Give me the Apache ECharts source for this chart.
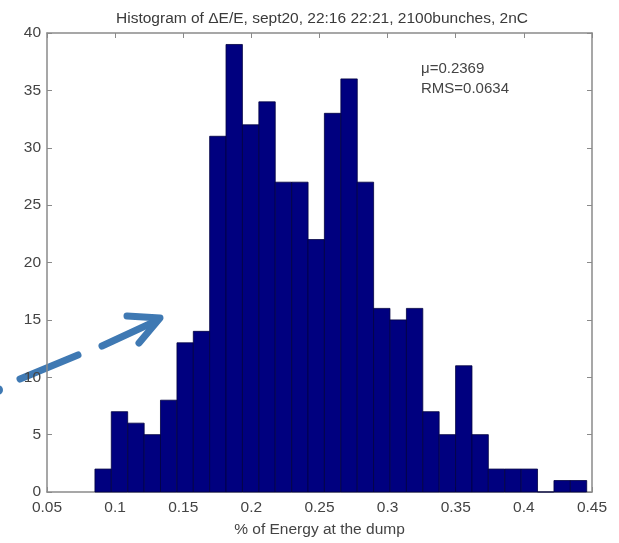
<!DOCTYPE html>
<html>
<head>
<meta charset="utf-8">
<script src="https://cdn.jsdelivr.net/npm/echarts@6/dist/echarts.min.js"></script>
<style>
html,body{margin:0;padding:0;background:#fff;}
#chart{width:619px;height:543px;}
</style>
</head>
<body>
<div id="chart"></div>
<script>
// ---- data ----
const binCenters = [0.0912, 0.1032, 0.1153, 0.1273, 0.1393, 0.1514, 0.1634, 0.1754, 0.1874, 0.1995,
                    0.2115, 0.2235, 0.2356, 0.2476, 0.2596, 0.2717, 0.2837, 0.2957, 0.3078, 0.3198,
                    0.3318, 0.3439, 0.3559, 0.3679, 0.3799, 0.3920, 0.4040, 0.4160, 0.4281, 0.4401];
const counts = [2, 7, 6, 5, 8, 13, 14, 31, 39, 32,
                34, 27, 27, 22, 33, 36, 27, 16, 15, 16,
                7, 5, 11, 5, 2, 2, 2, 0, 1, 1];
const binWidth = 0.01203;
const xTicks = [0.05, 0.1, 0.15, 0.2, 0.25, 0.3, 0.35, 0.4, 0.45];
const yTicks = [0, 5, 10, 15, 20, 25, 30, 35, 40];
const titleText = 'Histogram of \u0394E/E, sept20, 22:16 22:21, 2100bunches, 2nC';
const xLabel = '% of Energy at the dump';
const statsLines = ['\u03bc=0.2369', 'RMS=0.0634'];

// ---- chart ----
const chart = echarts.init(document.getElementById('chart'));
const FONT = '"Liberation Sans", Arial, sans-serif';
const axisGray = '#8a8a8a';
const labelColor = '#444';

const baseX = {
  type: 'value', min: xTicks[0], max: xTicks[xTicks.length - 1], interval: 0.05,
  axisLine: { show: true, onZero: false, lineStyle: { color: axisGray, width: 1.5 } },
  axisTick: { show: true, inside: true, length: 5, lineStyle: { color: axisGray } },
  splitLine: { show: false }
};
const baseY = {
  type: 'value', min: yTicks[0], max: yTicks[yTicks.length - 1], interval: 5,
  axisLine: { show: true, onZero: false, lineStyle: { color: axisGray, width: 1.5 } },
  axisTick: { show: true, inside: true, length: 5, lineStyle: { color: axisGray } },
  splitLine: { show: false }
};

const data = binCenters.map((c, i) => [c, counts[i]]);

chart.setOption({
  animation: false,
  backgroundColor: '#fff',
  title: {
    text: titleText, left: 317, top: 6, textAlign: 'center',
    textStyle: { fontFamily: FONT, fontSize: 15.5, fontWeight: 'normal', color: '#3a3a3a' }
  },
  grid: { left: 47, right: 27, top: 33, bottom: 50 },
  xAxis: [
    Object.assign({}, baseX, {
      position: 'bottom',
      name: xLabel, nameLocation: 'middle', nameGap: 30,
      nameTextStyle: { fontFamily: FONT, fontSize: 15.5, color: labelColor },
      axisLabel: { fontFamily: FONT, fontSize: 15.5, color: labelColor, margin: 8,
                   formatter: function (v) { return String(Math.round(v * 100) / 100); } }
    }),
    Object.assign({}, baseX, { position: 'top', axisLabel: { show: false } })
  ],
  yAxis: [
    Object.assign({}, baseY, {
      position: 'left',
      axisLabel: { fontFamily: FONT, fontSize: 15.5, color: labelColor, margin: 6 }
    }),
    Object.assign({}, baseY, { position: 'right', axisLabel: { show: false } })
  ],
  series: [{
    type: 'custom',
    xAxisIndex: 0, yAxisIndex: 0,
    data: data,
    renderItem: function (params, api) {
      const c = api.value(0), h = api.value(1);
      const p0 = api.coord([c - binWidth / 2, h]);
      const p1 = api.coord([c + binWidth / 2, 0]);
      return {
        type: 'rect',
        shape: { x: p0[0], y: p0[1], width: p1[0] - p0[0], height: p1[1] - p0[1] },
        style: { fill: '#00007f', stroke: '#000040', lineWidth: 0.8 }
      };
    }
  }],
  graphic: [
    {
      type: 'text', left: 421, top: 59,
      style: { text: statsLines.join('\n'), font: '15px ' + FONT, fill: '#444', lineHeight: 20 }
    },
    // decorative dashed arrow overlaid on the picture
    {
      type: 'group', silent: true,
      children: [
        { type: 'line', shape: { x1: 20, y1: 379, x2: 78, y2: 355 },
          style: { stroke: '#3f79b3', lineWidth: 7, lineCap: 'round' } },
        { type: 'line', shape: { x1: 102, y1: 346, x2: 156, y2: 321 },
          style: { stroke: '#3f79b3', lineWidth: 7, lineCap: 'round' } },
        { type: 'polyline', shape: { points: [[127, 316], [160, 318], [139, 343]] },
          style: { stroke: '#3f79b3', fill: null, lineWidth: 7, lineCap: 'round', lineJoin: 'round' } },
        { type: 'circle', shape: { cx: -2, cy: 390, r: 5 }, style: { fill: '#3f79b3' } }
      ]
    }
  ]
});
</script>
</body>
</html>
